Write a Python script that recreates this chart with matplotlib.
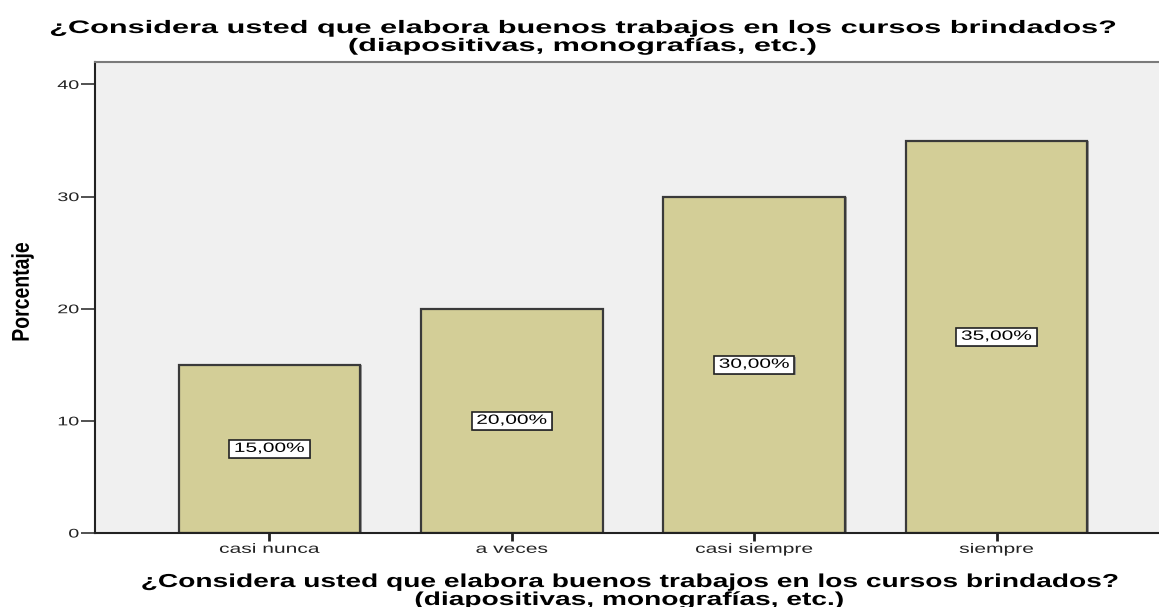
import matplotlib
matplotlib.use("Agg")
import matplotlib.pyplot as plt
from matplotlib.patheffects import AbstractPathEffect, Normal, SimplePatchShadow
from matplotlib.transforms import Affine2D

categories = ["casi nunca", "a veces", "casi siempre", "siempre"]
values = [15.0, 20.0, 30.0, 35.0]
yticks = [0, 10, 20, 30, 40]
title_lines = ["¿Considera usted que elabora buenos trabajos en los cursos brindados?",
               "(diapositivas, monografías, etc.)"]
ylabel = "Porcentaje"


class Stretch(AbstractPathEffect):
    """Horizontally stretch the drawn glyph/patch path around an anchor (the reference is a wide-stretched image)."""
    def __init__(self, sx, sy=1.0, anchor="center", inner=None):
        super().__init__()
        self.sx, self.sy, self.anchor = sx, sy, anchor
        self.inner = inner if inner is not None else [Normal()]

    def draw_path(self, renderer, gc, tpath, affine, rgbFace=None):
        bb = tpath.get_extents(affine)
        if self.anchor == "right":
            cx = bb.x1
        elif self.anchor == "left":
            cx = bb.x0
        else:
            cx = 0.5 * (bb.x0 + bb.x1)
        cy = 0.5 * (bb.y0 + bb.y1)
        new = affine + Affine2D().translate(-cx, -cy).scale(self.sx, self.sy).translate(cx, cy)
        for e in self.inner:
            e.draw_path(renderer, gc, tpath, new, rgbFace)


plt.rcParams["font.family"] = ["Liberation Sans", "DejaVu Sans"]

W, H = 1159, 607
fig = plt.figure(figsize=(W / 100, H / 100), dpi=100)
left, right, top, bottom = 95, 1171, 62, 533
ax = fig.add_axes([left / W, 1 - bottom / H, (right - left) / W, (bottom - top) / H])
ax.set_facecolor("#F0F0F0")

x = list(range(len(categories)))
bars = ax.bar(x, values, width=0.75, color="#D3CE97", edgecolor="#3A3A3A", linewidth=1.6, zorder=2)
for b in bars:
    b.set_path_effects([SimplePatchShadow(offset=(1.2, 0), shadow_rgbFace="#777777", alpha=0.7), Normal()])

ax.set_xlim(-0.72, 3.72)
ax.set_ylim(0, 42)
ax.set_yticks(yticks)
ax.set_xticks(x)
ax.set_xticklabels(categories, fontsize=9.7, color="#222222")
ax.set_yticklabels([str(t) for t in yticks], fontsize=9, color="#222222")
ax.tick_params(axis="x", length=5.8, width=2.0, color="#222222", pad=2)
ax.tick_params(axis="y", length=10, width=1.2, color="#333333", pad=1.5)
for t in ax.get_xticklabels():
    t.set_path_effects([Stretch(1.56)])
for t in ax.get_yticklabels():
    t.set_path_effects([Stretch(1.58, anchor="right")])

for s in ["left", "bottom"]:
    ax.spines[s].set_color("#222222")
    ax.spines[s].set_linewidth(1.5)
ax.spines["top"].set_color("#7A7A7A")
ax.spines["top"].set_linewidth(1.5)
ax.spines["right"].set_visible(False)

for xi, v in zip(x, values):
    txt = ax.text(xi, v / 2, f"{v:.2f}".replace(".", ",") + "%", ha="center", va="center",
                  fontsize=9.7, color="black", zorder=4,
                  bbox=dict(boxstyle="square,pad=0.22", facecolor="white", edgecolor="#222222", linewidth=1.2))
    txt.set_path_effects([Stretch(1.55)])
    txt.get_bbox_patch().set_path_effects(
        [Stretch(1.55, inner=[SimplePatchShadow(offset=(1.0, -1.0), shadow_rgbFace="#888888", alpha=0.8), Normal()])])

# chart title (top)
for line, yb in zip(title_lines, (33, 51)):
    t = fig.text(582 / W, 1 - yb / H, line, ha="center", va="baseline",
                 fontsize=13, fontweight="bold", color="black")
    t.set_path_effects([Stretch(1.70)])

# x-axis title (bottom)
for line, yb in zip(title_lines, (587, 605)):
    t = fig.text(629 / W, 1 - yb / H, line, ha="center", va="baseline",
                 fontsize=13.5, fontweight="bold", color="black")
    t.set_path_effects([Stretch(1.50)])

yl = fig.text(23 / W, 1 - 292 / H, ylabel, rotation=90, ha="center", va="center",
              fontsize=14, fontweight="bold", color="black")
yl.set_path_effects([Stretch(1.25)])

fig.savefig("out.png", dpi=100)
